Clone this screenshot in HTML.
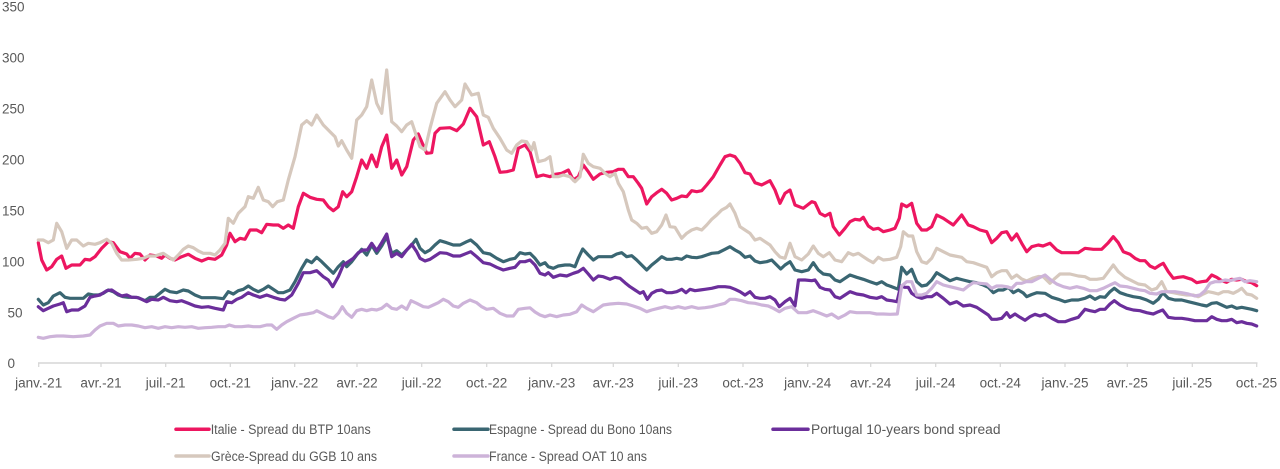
<!DOCTYPE html>
<html><head><meta charset="utf-8"><style>
html,body{margin:0;padding:0;background:#fff;}
svg{display:block;}
text{font-family:"Liberation Sans",sans-serif;fill:#595959;font-size:13.5px;}
</style></head><body>
<svg width="1280" height="469" viewBox="0 0 1280 469" xmlns="http://www.w3.org/2000/svg">
<rect width="1280" height="469" fill="#fff"/>
<!-- y labels -->
<text x="2" y="11.5">350</text>
<text x="2" y="62.5">300</text>
<text x="2" y="113.5">250</text>
<text x="2" y="164.5">200</text>
<text x="2" y="215.5">150</text>
<text x="2" y="266.5">100</text>
<text x="7.5" y="317.5">50</text>
<text x="7.5" y="368">0</text>
<!-- axis -->
<line x1="38" y1="363" x2="1257.5" y2="363" stroke="#d6d6d6" stroke-width="1.5"/>
<g stroke="#d6d6d6" stroke-width="1.2">
<line x1="38.7" y1="363" x2="38.7" y2="367"/><line x1="101" y1="363" x2="101" y2="367"/><line x1="165.7" y1="363" x2="165.7" y2="367"/><line x1="230.3" y1="363" x2="230.3" y2="367"/><line x1="294.7" y1="363" x2="294.7" y2="367"/><line x1="357" y1="363" x2="357" y2="367"/><line x1="421.7" y1="363" x2="421.7" y2="367"/><line x1="486.7" y1="363" x2="486.7" y2="367"/><line x1="551.7" y1="363" x2="551.7" y2="367"/><line x1="613.3" y1="363" x2="613.3" y2="367"/><line x1="678.3" y1="363" x2="678.3" y2="367"/><line x1="743" y1="363" x2="743" y2="367"/><line x1="807.7" y1="363" x2="807.7" y2="367"/><line x1="870.7" y1="363" x2="870.7" y2="367"/><line x1="935.7" y1="363" x2="935.7" y2="367"/><line x1="1000.3" y1="363" x2="1000.3" y2="367"/><line x1="1065" y1="363" x2="1065" y2="367"/><line x1="1127.3" y1="363" x2="1127.3" y2="367"/><line x1="1192.3" y1="363" x2="1192.3" y2="367"/><line x1="1256.7" y1="363" x2="1256.7" y2="367"/>
</g>
<g text-anchor="middle">
<text x="38.7" y="387.5">janv.-21</text><text x="101" y="387.5">avr.-21</text><text x="165.7" y="387.5">juil.-21</text><text x="230.3" y="387.5">oct.-21</text><text x="294.7" y="387.5">janv.-22</text><text x="357" y="387.5">avr.-22</text><text x="421.7" y="387.5">juil.-22</text><text x="486.7" y="387.5">oct.-22</text><text x="551.7" y="387.5">janv.-23</text><text x="613.3" y="387.5">avr.-23</text><text x="678.3" y="387.5">juil.-23</text><text x="743" y="387.5">oct.-23</text><text x="807.7" y="387.5">janv.-24</text><text x="870.7" y="387.5">avr.-24</text><text x="935.7" y="387.5">juil.-24</text><text x="1000.3" y="387.5">oct.-24</text><text x="1065" y="387.5">janv.-25</text><text x="1127.3" y="387.5">avr.-25</text><text x="1192.3" y="387.5">juil.-25</text><text x="1256.5" y="387.5">oct.-25</text>
</g>
<g fill="none" stroke-width="3.2" stroke-linejoin="round" stroke-linecap="round">
<!-- Italie -->
<polyline stroke="#ED1660" points="38.3,242.7 41.7,260 46.7,270 51.7,266.7 56.7,259.3 61.7,256 66,268.3 71.7,265 80,265 85,259.3 90,260 95,256.7 101.7,248.3 108.3,241.7 113.3,242.7 120,251.7 126.7,254 130,258.3 135,253.3 140,254 145,260 150,255 156.7,256 161.7,258.3 165,255 170,258.3 175,260 181.7,256.7 188.3,254.3 195,258.3 201.7,261 208.3,258.3 215,259.3 221.7,255 226.7,245 230,233.3 235,241.7 240,238.3 245,239.3 250,230 256.7,230 261.7,232.7 266.7,224.3 273.3,225 278.3,225 283.3,228.3 288.3,225 293.3,228.3 298.3,206.7 303.3,193.3 310,197.3 316.7,199.3 323.3,200 328.3,206.7 333.3,210.7 338.3,206.7 342.7,191.7 346.7,196.7 351.7,191.7 356.7,176.7 361.7,160 366.7,168.3 371.7,155 376.7,166.7 381.7,146.7 386.7,135 391.7,168.3 396.7,160 401.7,175 406.7,166.7 413.3,140 418.3,134 426.7,153.3 431.7,152.7 435,133.3 440,128.3 450,127.7 456.7,130.7 463.3,124 470,108.3 476.7,116.7 483.3,145 489.3,141.7 495,156.7 500,172.3 506.7,171.7 513.3,170 518.3,148.3 525,145 530,151.7 536.7,176.7 543.3,175 550,176.7 555,174.3 561.7,173.3 568.3,170 573.3,180 578.3,176.7 583.3,165 588.3,171.7 593.3,179.3 600,174 606.7,172.3 613.3,171.7 618.3,169.3 623.3,169.3 628.3,176.7 633.3,176.7 638.3,183.3 641.7,188.3 646.7,204 651.7,196.7 656.7,192.7 661.7,189.3 666.7,193.3 671.7,200 676.7,198.3 681.7,196 686.7,196.7 691.7,190.7 696.7,191.7 701.7,190.7 706.7,185 713.3,176.7 720,165 725,156.7 730,155 735,156.7 740,163.3 745,172.7 750,174 755,182.7 761.7,185 770,180.7 775,190 780,203.3 785,193.3 790,190 795,205 803.3,208.3 811.7,201.7 815,202.7 820,213.3 825,216 830,213.3 833.3,226.7 839.3,235 845,228.3 850,221.7 855,219.3 860,220 863.3,217.3 868.3,226 873.3,229.3 878.3,228.3 883.3,231.7 890,230 895,228.3 899.3,218.3 901.7,204 906.7,206.7 911.7,203.3 916.7,223.3 921.7,230 926.7,230 931.7,226.7 936.7,215 943.3,218.3 948.3,221.7 953.3,225 961.7,215 968.3,225 973.3,226.7 980,230 986.7,231.7 991.7,242.7 996.7,238.3 1001.7,232.7 1006.7,231.7 1011.7,240 1016.7,234 1021.7,243.3 1026.7,251.7 1031.7,246.7 1038.3,245 1043,246 1050,243.3 1056.7,250 1061.7,252.7 1070,252.7 1078.3,252.7 1085,248.3 1093.3,249.3 1101.7,249.3 1108.3,242.7 1113.3,236.7 1118.3,242.7 1123.3,251.7 1130,254.3 1135,258.3 1140,260.7 1145,260.7 1150,266 1155,268.3 1160,265 1163.3,263.3 1168.3,271.7 1173.3,278.3 1178.3,277.3 1183.3,276.7 1188.3,278.3 1191.7,279.3 1196.7,282.7 1201.7,281.7 1206.7,281 1211.7,275 1216.7,277.3 1221.7,280.7 1226.7,282.3 1231.7,279.3 1236.7,280 1241.7,279.3 1246.7,281.7 1251.7,282.7 1256.7,285.7"/>
<!-- Espagne -->
<polyline stroke="#3A6672" points="38.3,299.3 43.3,305 48.3,302.7 53.3,296 60,292.7 65,297.3 70,298.3 76.7,298.3 83.3,298.3 88.3,294 93.3,295 98.3,295 103.3,293.3 108.3,290 113.3,291.7 118.3,295 123.3,296.7 128.3,297.3 133.3,297.3 138.3,297.7 145,300.7 150,297.3 155,297.3 160,293.3 165,289.3 170,291.7 176.7,292.7 183.3,290 188.3,291 195,295 201.7,297.7 208.3,297.7 215,297.7 223.3,298.7 228.3,291.7 233.3,294 238.3,290.7 243.3,289.3 248.3,286 253.3,289.3 258.3,291.7 263.3,289.3 268.3,286 273.3,289.3 278.3,292.7 283.3,292.7 290,290 295,281.7 301.7,268.3 306.7,260 311.7,262.7 316.7,257.3 321.7,261.7 328.3,268.3 333.3,273.3 338.3,266.7 343.3,261.7 346.7,266.7 351.7,261.7 356.7,255 361.7,249.3 366.7,255 371.7,245 376.7,253.3 381.7,246 386.7,236.7 391.7,253.3 396.7,250.7 401.7,255 406.7,250 411.7,245 416,239.3 420,248.3 425,252.7 430,250 435,245 440,240.7 446.7,242.7 453.3,245 460,245 466.7,241.7 470.7,240 476.7,245 483.3,252.7 490,254 496.7,258.3 503.3,261.7 510,259.3 515,258.3 520,252.7 525,254 530,253.3 535,258.3 540,265 545,262.7 548.3,266.7 553.3,268.3 558.3,266 565,265 570,265 575,266.7 578.3,258.3 582.7,249 588.3,255 593.3,260 598.3,256.7 605,256.7 611.7,256.7 616.7,254 621.7,252.7 626.7,256.7 631.7,255.7 636.7,260 641.7,265 646.7,270 651.7,265 656.7,261 661.7,256.7 666.7,259.3 671.7,259.3 676.7,258.3 681.7,259.3 686.7,256 691.7,257.3 696.7,257.7 701.7,256.7 706.7,255 711.7,253.3 718.3,252.7 725,249.3 730,246.7 735,250 740,252.7 745,257.3 750,256 755,261 760,262.7 766.7,261.7 771.7,260 776.7,265 780.7,269 785,265 790,261.7 795,270 801.7,271.7 808.3,270 813.3,262.7 818.3,270 823.3,274 830,275 835,280 840,281.7 845,278.3 850,275 856.7,277.3 863.3,279.3 870,281.7 876.7,284 881.7,281.7 886.7,285 891.7,286.7 898.3,289.3 901.7,267.3 906.7,274 911.7,269.3 916.7,281.7 921.7,286 926.7,285 931.7,280 936.7,272.7 943.3,276.7 950,280.7 956.7,278.3 963.3,280 970,281.7 976.7,282.7 983.3,285 988.3,287.3 993.3,292.7 998.3,290 1003.3,290 1008.3,287.3 1013.3,292.7 1018.3,290 1023.3,293 1026.7,296.7 1031.7,294.5 1036.7,292.7 1045,293.3 1051.7,297.3 1058.3,299.3 1065,301.7 1071.7,300 1078.3,300 1085,298.3 1090,296 1095,299.3 1100,296.7 1105,297.3 1110,291.7 1114.3,288.3 1120,292.7 1126.7,295 1133.3,296.7 1140,297.7 1146.7,300 1153.3,303.3 1158.3,299.3 1162.7,292.7 1168.3,298.3 1175,300 1181.7,300 1188.3,301.7 1195,303.3 1201.7,305 1206.7,306 1211.7,303.3 1216.7,302.7 1221.7,305 1226.7,307.3 1231.7,306 1236.7,308.3 1241.7,307.3 1246.7,308.3 1251.7,309.3 1256.7,310.7"/>
<!-- Portugal -->
<polyline stroke="#6B2E9B" points="38.3,306.7 43.3,310.7 48.3,308.3 53.3,306 60,304 63.3,302.7 66.7,311.7 71.7,310 78.3,310 85,306 90,297.3 95,296 100,295 106.7,290.7 111.7,290 116.7,293.3 121.7,296 126.7,295 131.7,297.3 136.7,297.3 141.7,299.3 146.7,301.7 151.7,299.3 158.3,300 163.3,297.3 170,300.7 176.7,301.7 181.7,300.7 188.3,303.3 195,306 201.7,307.3 208.3,306.7 215,308.3 223.3,310 226.7,301.7 231.7,302.7 236.7,299.3 241.7,297.3 248.3,292.7 253.3,295 260,297.3 266.7,295 273.3,297.3 280,299.3 285,300 291.7,295 298.3,283.3 303.3,272.7 310,272.7 316.7,270.7 323.3,276.7 328.3,280 332.7,286.7 338.3,276.7 343.3,265 348.3,261.7 353.3,258.3 358.3,252.7 363.3,250 367.3,250 371.7,243.3 376.7,250.7 381.7,242.7 386.7,234 391.7,256.7 396.7,253.3 401.7,256.7 406.7,250 411.7,244.3 416.7,251.7 420,258.3 425,261 430,259.3 435,256 440,252.7 446.7,253.3 453.3,256 460,256 466.7,253.3 470.7,251.7 476.7,256.7 483.3,262.7 490,264 496.7,267.3 503.3,270 510,268.3 515,267.3 520,261.7 525,261.7 530,260 535,265 540,273.3 545,275 548.3,272.7 553.3,277.3 560,275 566.7,276 573.3,273.3 578.3,271.7 583.3,268.3 588.3,274 593.3,280 598.3,276 603.3,276.7 610,279.3 615,277.3 620,278.3 625,282.7 630,286.7 635,290 640,293.3 643.3,291.7 647.3,299.3 651.7,293.3 656.7,290.7 661.7,290 666.7,292.7 671.7,292.7 676.7,291.7 681.7,289.3 686,292.7 690,289.3 695,290.7 700,290 705,289.3 711.7,288.3 718.3,286.7 725,286.7 730,287.3 735,289.3 740,291.7 745,295 750,291.7 755,297.3 760,298.3 765,298.3 770,296.7 775,300 779.3,306.7 785,301.7 790,298.3 795,306 798.5,280 805,280 811.7,280.7 815,280 820,287.3 825,289.3 830,290 835,296.7 840,298.3 845,295 850,291.7 856.7,294 863.3,295 870,297.3 876.7,298.3 881.7,296.7 886.7,300 891.7,300.7 897,301.7 900.7,286 905,287.3 908.3,287.3 911.7,293.3 916.7,296.7 921.7,298.3 926.7,296.7 931.7,296.7 936.7,293.3 943.3,298.3 950,304 956.7,301.7 963.3,306 970,305 976.7,307.3 983.3,311.7 988.3,315 991.7,319.3 996.7,319.3 1001.7,318.3 1006.7,312.7 1010,317.3 1015,314 1020,317.3 1025,320.3 1030,316.7 1035,314.3 1040,316 1045,314.3 1051.7,318.3 1058.3,321.7 1065,321.7 1071.7,319.3 1078.3,317.3 1085,309.3 1090,310.7 1095,311.7 1100,309.3 1105,309.3 1110,304 1114.3,300.7 1120,305 1126.7,308.3 1133.3,310 1140,310.7 1146.7,312.7 1153.3,314 1158.3,311.7 1162.7,310 1168.3,317.3 1175,318.3 1181.7,318.3 1188.3,319.3 1195,320.7 1201.7,320.7 1206.7,320.7 1211.7,316.7 1216.7,319.3 1221.7,320.7 1226.7,320.7 1231.7,319.3 1236.7,322.7 1241.7,321.7 1246.7,323.3 1251.7,324 1256.7,326"/>
<!-- Grece -->
<polyline stroke="#D6C8BD" points="38.3,240 43.3,240 48.3,242.7 53.3,240 56.7,223.3 61.7,231.7 66.7,248.3 71.7,240 76.7,240 83.3,246 88.3,243.3 95,244.3 100,242.7 106.7,239.3 111.7,243.3 116.7,253.3 121.7,260 128.3,260 136.7,259.3 143.3,258.3 148.3,256 155,256 160,254.3 163.3,253.3 168.3,256.7 173.3,260 178.3,255 183.3,249.3 188.3,246 193.3,247.7 198.3,251 203.3,253.3 210,253.3 215,255 220,250 225,243.3 228.3,218.3 233.3,223.3 238.3,213.3 245,206.7 248.3,196.7 253.3,198.3 258.3,187.3 263.3,200 268.3,201.7 272.7,206.7 277.3,201.7 283.3,200 288.3,180 295,156.7 301.7,125 306.7,120.7 311.7,125 316.7,115 323.3,125 330,131.7 335,136.7 338.3,146 341.7,140.7 346.7,150 351.7,158.3 356.7,120 361.7,115 366.7,106.7 371.7,80 376.7,103.3 381.7,113.3 386.7,70 391.7,121.7 396.7,126 401.7,131.7 406.7,125 411.7,121.7 416.7,136.7 420,146.7 425,150 430,128.3 436.7,103.3 445,91.7 450,100 455,106.7 461.7,100 465,84 471.7,95 478.3,93.3 483.3,115 488.3,117.3 493.3,128.3 500,138.3 506.7,150 511.7,153.3 516.7,145 521.7,141 526.7,141.7 531.7,150 534,142.7 538.3,161.7 545,160 550,156.7 553.3,176.7 558.3,176.7 563.3,175 570,176.7 575,181.7 580,176.7 583.3,154.3 588.3,163.3 593.3,166.7 600,168.3 605,173.3 610,176.7 615,173.3 618.3,183.3 623.3,191.7 628.3,210 631.7,220 636.7,223.3 641.7,228.3 646.7,227.3 651.7,233.3 656.7,231.7 661.7,225 666,215 670,226.7 675,227.3 681.7,238.3 686.7,233.3 691.7,230 696.7,228.3 701.7,230 706.7,225 711.7,219.3 716.7,215 721.7,210 726.7,207.3 730,204 735,213.3 740,226.7 745,230 750,233.3 755,240 760,238.3 765,241.7 770,245 775,251.7 780,257 785,258.3 790,243.3 795,256.7 801.7,260 808.3,254 813.3,246 818.3,253.3 823.3,256.7 829.3,252.7 835,260 841.7,261.7 848.3,252.7 853.3,255 858.3,253.3 863.3,256.7 868.3,260 873.3,262.7 878.3,257.3 883.3,260 890,259.3 896.7,257.3 900.7,246.7 903.3,231.7 908.3,236 912.7,236 916.7,251.7 921.7,261.7 926.7,263.3 931.7,258.3 936.7,248.3 943.3,251.7 950,255 955,256 961.7,257.3 966.7,261.7 973.3,262.7 980,265 986.7,267.3 991.7,276.7 996.7,272.7 1001.7,270.7 1006.7,270.7 1011.7,278.3 1016.7,275 1021.7,279 1026.7,281 1033.3,278 1038.3,276.5 1043.3,276.7 1050,283.3 1055,278.3 1060,274 1070,274 1078.3,276 1085,276.7 1090,279.3 1096.7,279.3 1103.3,278.3 1108.3,271.7 1113.3,265 1118.3,271.7 1125,277.3 1131.7,280.7 1138.3,284 1145,285 1151.7,290 1156.7,288.3 1161.7,281.7 1166.7,291.7 1173.3,292.7 1180,294 1186.7,295 1193.3,295 1198.3,296.7 1203.3,294 1208.3,291.7 1213.3,292.7 1218.3,294 1223.3,291.7 1228.3,291.7 1233.3,293.3 1238.3,290.7 1241.7,288.3 1246.7,294 1251.7,295 1256.7,298.3"/>
<!-- France -->
<polyline stroke="#CDB3D9" points="38.3,337.3 43.3,338.3 50,336.7 56.7,336 63.3,336 73.3,336.7 83.3,336 90,335 95,330 100,326 106.7,323.3 113.3,323.3 118.3,326 125,325 131.7,325 138.3,326 145,327.7 151.7,326.7 158.3,328.3 165,326.7 171.7,327.7 178.3,326.7 185,327.3 191.7,326.7 198.3,328.3 205,327.7 211.7,327.3 218.3,326.7 225,326.7 229.3,325 235,326.7 241.7,326.7 248.3,326 253.3,326.7 260,326.7 266.7,325 271.7,325 276.7,329.3 281.7,325 286.7,321.7 293.3,318.3 300,315 306.7,314 313.3,312.7 316.7,310.7 323.3,314 328.3,316.7 333.3,318.3 338.3,313.3 342.3,306.7 346.7,313.3 351.7,317.3 356.7,310.7 361.7,309.3 366.7,310.7 371.7,309.3 376.7,310 381.7,308.3 386.7,304.3 391.7,308.3 396.7,309.3 401.7,306 406.7,309.3 411,300.7 416.7,303.3 423.3,306.7 428.3,307.3 433.3,305 438.3,302.7 443.3,299.3 448.3,301.7 453.3,306 458.3,307.3 463.3,303.3 470,300 476.7,302.7 481.7,306.7 486.7,309.3 493.3,308.3 500,313.3 506.7,316 513.3,316 518.3,309.3 525,308.3 530,307.8 535,312 540,315 545,316.7 550,315 556.7,316.7 563.3,315 570,314.3 576.7,311.7 581.7,305 586.7,308.3 593.3,311.7 598.3,308.3 603.3,305 610,304 618.3,303.3 626.7,304 633.3,306 640,308.3 646.7,311.7 651.7,310 658.3,308.3 665,306.7 671.7,308.3 678.3,306.7 685,308.3 691.7,306.7 698.3,308.3 705,307.7 711.7,306.7 718.3,305 725,303.3 730,299.3 735,299.3 741.7,300.7 748.3,302.7 755,303.3 761.7,305 768.3,306 773.3,308.3 779.3,311.7 785,308.3 791.7,306.7 798.3,312.7 806.7,312.7 813.3,310.7 820,313.3 826.7,316 831.7,314 838.3,318.3 845,315 850,311.7 856.7,312.7 863.3,312.7 870,312.7 876.7,314 883.3,314 890,314.3 897.3,314 901.7,286 906.7,281.7 911.7,281.7 916.7,295 921.7,295 926.7,293.3 931.7,288.3 936.7,281.7 943.3,285 950,286.7 956.7,288.3 963.3,290 968.3,286 973.3,282.7 980,283.3 986.7,284 991.7,288.3 996.7,286 1001.7,286 1006.7,286.7 1011.7,288.3 1016.7,283.3 1021.7,283.3 1026.7,281.5 1031.7,281.7 1038.3,278.3 1045,275 1050,279.3 1056.7,284 1063.3,286.7 1070,288.3 1076.7,286.7 1083.3,288.3 1090,290.7 1096.7,290.7 1103.3,288.3 1110,285 1115,282.7 1120,286 1126.7,286.7 1133.3,288.3 1140,290 1145,290.7 1150,293.3 1156.7,294 1161.7,291.7 1168.3,291.7 1175,291.7 1181.7,292.7 1188.3,294 1195,296 1200,295 1205,290.7 1210,283.3 1215,281.7 1220,281.7 1225,280 1230,280.7 1235,279.3 1240,278.3 1245,281.7 1250,280.7 1256.7,281.7"/>
</g>
<!-- legend -->
<g stroke-width="3.5" stroke-linecap="round">
<line x1="176" y1="429.3" x2="209" y2="429.3" stroke="#ED1660"/>
<line x1="454" y1="429.3" x2="488" y2="429.3" stroke="#3A6672"/>
<line x1="773" y1="429.3" x2="808" y2="429.3" stroke="#6B2E9B"/>
<line x1="176" y1="456" x2="209" y2="456" stroke="#D6C8BD"/>
<line x1="454" y1="456" x2="488" y2="456" stroke="#CDB3D9"/>
</g>
<text x="210.7" y="434" textLength="160" lengthAdjust="spacingAndGlyphs">Italie - Spread du BTP 10ans</text>
<text x="489" y="434" textLength="183" lengthAdjust="spacingAndGlyphs">Espagne - Spread du Bono 10ans</text>
<text x="811" y="434" textLength="189.5" lengthAdjust="spacingAndGlyphs">Portugal 10-years bond spread</text>
<text x="211" y="461" textLength="166" lengthAdjust="spacingAndGlyphs">Grèce-Spread du GGB 10 ans</text>
<text x="489" y="461" textLength="158" lengthAdjust="spacingAndGlyphs">France - Spread OAT 10 ans</text>
</svg>
</body></html>
